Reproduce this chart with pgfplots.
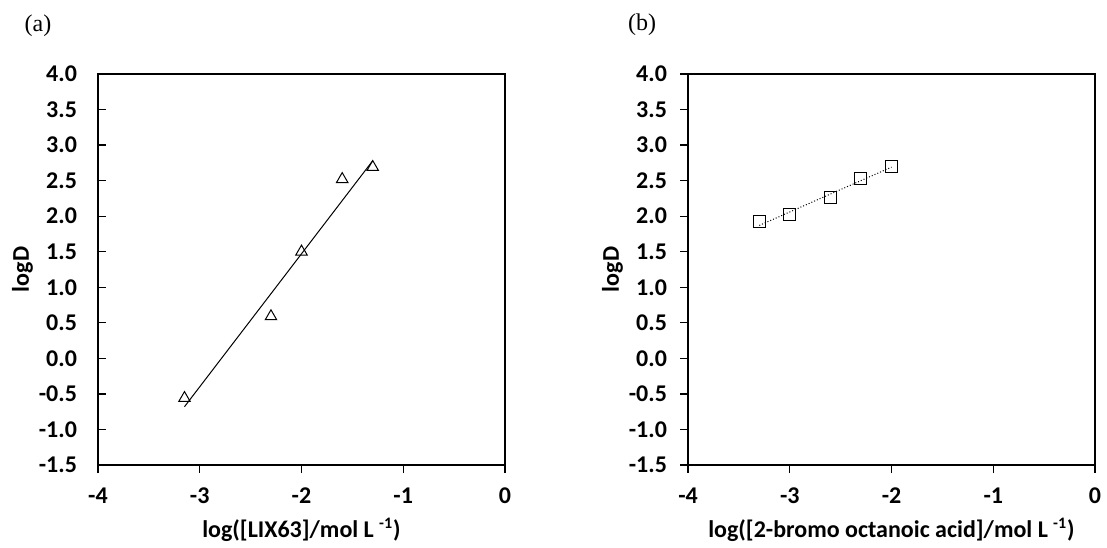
\documentclass[border=0pt]{standalone}
\usepackage{fontspec}
\setmainfont{Carlito}
\newfontfamily\tnr{Liberation Serif}
\usepackage{pgfplots}
\pgfplotsset{compat=1.18}
\pgfplotsset{
  logd/.style={scale only axis, width=203.5pt, height=195.5pt,
    xmin=-4, xmax=0, ymin=-1.5, ymax=4,
    xtick={-4,-3,-2,-1,0},
    ytick={-1.5,-1,-0.5,0,0.5,1,1.5,2,2.5,3,3.5,4},
    tick align=outside, xtick pos=bottom, ytick pos=left,
    major tick length=4pt,
    axis line style={line width=0.65pt},
    every tick/.style={black, line width=0.6pt},
    /pgf/number format/assume math mode=true,
    ticklabel style={font=\bfseries\fontsize{12}{14}\selectfont},
    y tick label style={xshift=-3pt,/pgf/number format/.cd,fixed,fixed zerofill,precision=1,/tikz/.cd},
    x tick label style={yshift=-4pt},
    label style={font=\bfseries\fontsize{12}{14}\selectfont},
    ylabel={logD},
    % rotated label: its own y axis points left
    ylabel style={at={(rel axis cs:0,0.5)}, anchor=center, yshift=37.75pt},
    xlabel style={at={(rel axis cs:0.5,0)}, anchor=center, yshift=-32.5pt},
    clip=false,
  }
}
\begin{document}
\begin{tikzpicture}
\path[use as bounding box] (0,0) rectangle (553.5pt,273.5pt);
\node[font=\tnr\fontsize{12}{14}\selectfont] at (19pt,260.5pt) {(a)};
\node[font=\tnr\fontsize{12}{14}\selectfont] at (321pt,261pt) {(b)};
% (a) LIX63
\begin{axis}[logd, at={(49pt,41pt)}, anchor=south west,
  ytick style={xshift=4pt},
  xlabel={log([LIX63]/mol L \textsuperscript{-1})}]
\addplot[only marks, mark=triangle, mark size=3.3pt, mark options={line width=0.5pt, fill=white}]
  coordinates {(-3.15,-0.56)(-2.3,0.59)(-2.0,1.5)(-1.6,2.52)(-1.3,2.69)};
\addplot[black, line width=0.5pt] coordinates {(-3.15,-0.68)(-1.3,2.78)};
\end{axis}
% (b) 2-bromo octanoic acid
\begin{axis}[logd, at={(344pt,41pt)}, anchor=south west,
  xlabel={log([2-bromo octanoic acid]/mol L \textsuperscript{-1})}]
\addplot[black, line width=0.5pt, densely dotted] coordinates {(-3.3,1.87)(-2.0,2.69)};
\addplot[only marks, mark=square, mark size=3pt, mark options={line width=0.5pt}]
  coordinates {(-3.3,1.92)(-3.0,2.02)(-2.6,2.26)(-2.3,2.53)(-2.0,2.70)};
\end{axis}
\end{tikzpicture}
\end{document}
